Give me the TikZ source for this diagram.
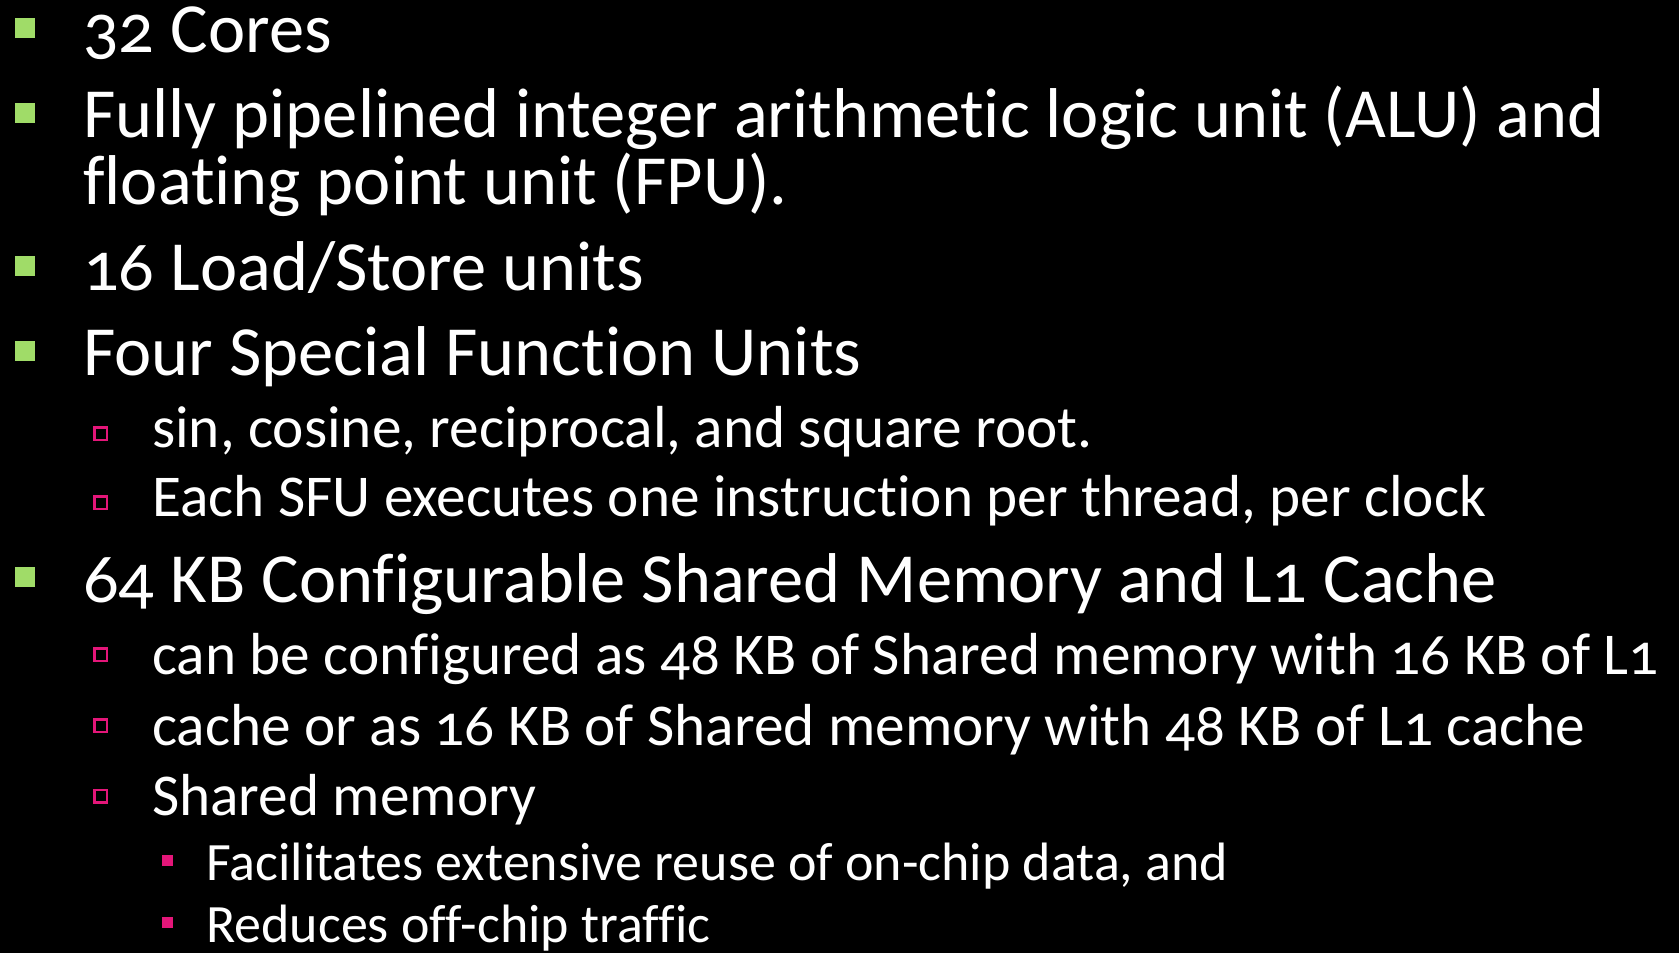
\documentclass[tikz,border=0pt]{standalone}
\usepackage{fontspec}
\setmainfont{Carlito}[Numbers=OldStyle, Ligatures=NoCommon]
\usepackage{xcolor}
\definecolor{bulletgreen}{RGB}{160,220,104}
\definecolor{bulletpink}{RGB}{228,22,121}

\begin{document}
\begin{tikzpicture}[
  x=1pt, y=-1pt,
  lvlone/.style={anchor=base west, inner sep=0pt, text=white,
                 font=\fontsize{70.5}{84}\selectfont},
  lvltwo/.style={anchor=base west, inner sep=0pt, text=white,
                 font=\fontsize{59.3}{72}\selectfont},
  lvlthree/.style={anchor=base west, inner sep=0pt, text=white,
                   font=\fontsize{54}{64}\selectfont},
  dotone/.style={rectangle, fill=bulletgreen, inner sep=0pt, minimum size=20pt},
  dottwo/.style={rectangle, draw=bulletpink, line width=2.5pt, inner sep=0pt,
                 minimum size=12.5pt},
  dotthree/.style={rectangle, fill=bulletpink, inner sep=0pt, minimum size=11pt}
]
\fill[black] (0,0) rectangle (1679,953);
\useasboundingbox (0,0) rectangle (1679,953);

% level one
\node[dotone] (b1) at (25,28) {};
\node[lvlone] (cores) at (83,52) {32 Cores};
\node[dotone] (b2) at (25,113) {};
\node[lvlone] (alu) at (83,137) {Fully pipelined integer arithmetic logic unit (ALU) and};
\node[lvlone] (fpu) at (83,204) {floating point unit (FPU).};
\node[dotone] (b3) at (25,266) {};
\node[lvlone] (ldst) at (83,290) {16 Load/Store units};
\node[dotone] (b4) at (25,351) {};
\node[lvlone] (sfu) at (83,375) {Four Special Function Units};

% level two
\node[dottwo] (s1) at (100.5,433.5) {};
\node[lvltwo] (sin) at (152,447) {sin, cosine, reciprocal, and square root.};
\node[dottwo] (s2) at (100.5,502.5) {};
\node[lvltwo] (each) at (152,516) {Each SFU executes one instruction per thread, per clock};

\node[dotone] (b5) at (25,577) {};
\node[lvlone] (mem) at (83,602) {64 KB Configurable Shared Memory and L1 Cache};
\node[dottwo] (s3) at (100.5,654.5) {};
\node[lvltwo] (conf) at (152,674) {can be configured as 48 KB of Shared memory with 16 KB of L1};
\node[dottwo] (s4) at (100.5,725.5) {};
\node[lvltwo] (cache) at (152,745) {cache or as 16 KB of Shared memory with 48 KB of L1 cache};
\node[dottwo] (s5) at (100.5,796) {};
\node[lvltwo] (shm) at (152,815) {Shared memory};

% level three
\node[dotthree] (t1) at (167,860.5) {};
\node[lvlthree] (reuse) at (206,880) {Facilitates extensive reuse of on-chip data, and};
\node[dotthree] (t2) at (167,922.5) {};
\node[lvlthree] (traffic) at (206,942) {Reduces off-chip traffic};
\end{tikzpicture}
\end{document}
